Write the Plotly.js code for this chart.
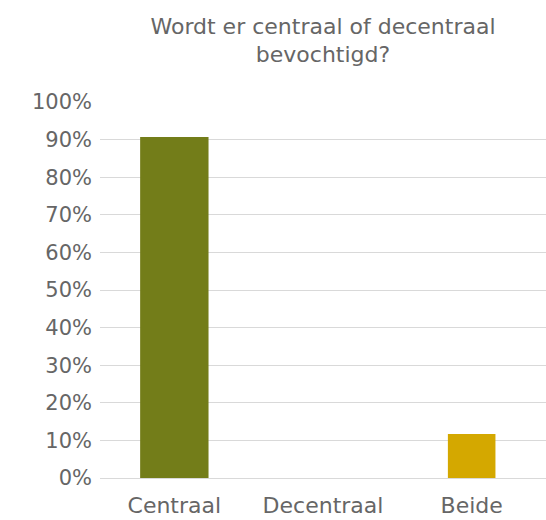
<!DOCTYPE html>
<html><head><meta charset="utf-8">
<script src="https://cdn.plot.ly/plotly-3.0.1.min.js"></script>
<style>html,body{margin:0;padding:0;background:#fff}</style>
</head><body><div id="chart" style="width:546px;height:520px"></div>
<script>
const categories = ["Centraal", "Decentraal", "Beide"];
const values = [0.907, 0, 0.117];
const barColors = ["#737d19", "#8a8a1f", "#d4a800"];
const barWidths = [0.46, 0.4, 0.32];
const yTickVals = [0,0.1,0.2,0.3,0.4,0.5,0.6,0.7,0.8,0.9,1];
const yTickText = ["0%","10%","20%","30%","40%","50%","60%","70%","80%","90%","100%"];
const titleText = "Wordt er centraal of decentraal<br>bevochtigd?";

const fontFam = "'DejaVu Sans', sans-serif";
Plotly.newPlot("chart", [{
  type: "bar", x: categories, y: values,
  marker: {color: barColors}, width: barWidths,
  hoverinfo: "skip"
}], {
  width: 546, height: 520,
  margin: {l: 100, r: 0, t: 102, b: 42},
  paper_bgcolor: "#fff", plot_bgcolor: "#fff",
  title: {text: titleText, x: 0.5, xref: "paper", xanchor: "center",
          y: 0.935, yref: "container", yanchor: "middle",
          font: {family: fontFam, size: 22, color: "#666666"}},
  xaxis: {tickfont: {family: fontFam, size: 22, color: "#666666"}, showgrid: false,
          showline: false, ticks: "", ticklabelstandoff: 12, fixedrange: true},
  yaxis: {range: [0, 1], tickvals: yTickVals, ticktext: yTickText,
          tickfont: {family: fontFam, size: 21, color: "#666666"},
          gridcolor: "#d9d9d9", gridwidth: 1, zeroline: true, zerolinecolor: "#d9d9d9",
          ticklabelstandoff: 7, showline: false, fixedrange: true},
  showlegend: false
}, {displayModeBar: false, staticPlot: true});
</script></body></html>
